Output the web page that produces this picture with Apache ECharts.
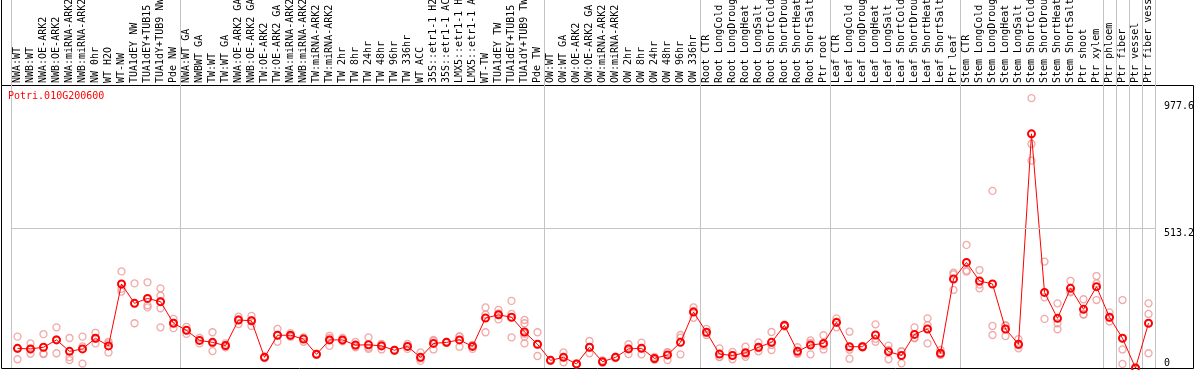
<!DOCTYPE html>
<html>
<head>
<meta charset="utf-8">
<script src="https://cdn.jsdelivr.net/npm/echarts@6/dist/echarts.min.js"></script>
<style>
html, body { margin: 0; padding: 0; background: #fff; }
#expr_chart { width: 1194px; height: 370px; }
</style>
</head>
<body>
<div id="expr_chart"></div>
<script>
var geneName = 'Potri.010G200600';

var categories = [
    'NWA:WT', 'NWB:WT', 'NWA:OE-ARK2', 'NWB:OE-ARK2', 'NWA:miRNA-ARK2', 'NWB:miRNA-ARK2',
    'NW 0hr', 'WT H2O', 'WT-NW', 'TUA1dEY NW', 'TUA1dEY+TUB15 NW', 'TUA1dY+TUB9 NW', 'Pde NW',
    'NWA:WT GA', 'NWBWT GA', 'TW:WT', 'TW:WT GA', 'NWA:OE-ARK2 GA', 'NWB:OE-ARK2 GA',
    'TW:OE-ARK2', 'TW:OE-ARK2 GA', 'NWA:miRNA-ARK2', 'NWB:miRNA-ARK2', 'TW:miRNA-ARK2', 'TW:miRNA-ARK2',
    'TW 2hr', 'TW 8hr', 'TW 24hr', 'TW 48hr', 'TW 96hr', 'TW 336hr', 'WT ACC',
    '35S::etr1-1 H2O', '35S::etr1-1 ACC', 'LMX5::etr1-1 H2O', 'LMX5::etr1-1 ACC',
    'WT-TW', 'TUA1dEY TW', 'TUA1dEY+TUB15 TW', 'TUA1dY+TUB9 TW', 'Pde TW',
    'OW:WT', 'OW:WT GA', 'OW:OE-ARK2', 'OW:OE-ARK2 GA', 'OW:miRNA-ARK2', 'OW:miRNA-ARK2',
    'OW 2hr', 'OW 8hr', 'OW 24hr', 'OW 48hr', 'OW 96hr', 'OW 336hr',
    'Root CTR', 'Root LongCold', 'Root LongDrought', 'Root LongHeat', 'Root LongSalt',
    'Root ShortCold', 'Root ShortDrought', 'Root ShortHeat', 'Root ShortSalt', 'Ptr root',
    'Leaf CTR', 'Leaf LongCold', 'Leaf LongDrought', 'Leaf LongHeat', 'Leaf LongSalt',
    'Leaf ShortCold', 'Leaf ShortDrought', 'Leaf ShortHeat', 'Leaf ShortSalt', 'Ptr leaf',
    'Stem CTR', 'Stem LongCold', 'Stem LongDrought', 'Stem LongHeat', 'Stem LongSalt',
    'Stem ShortCold', 'Stem ShortDrought', 'Stem ShortHeat', 'Stem ShortSalt', 'Ptr shoot', 'Ptr xylem',
    'Ptr phloem', 'Ptr fiber', 'Ptr vessel', 'Ptr fiber vessel'
];

// mean expression per sample
var meanValues = [
    72, 70, 76, 103, 61, 70, 109, 81, 308, 237, 255, 243, 164,
    138, 101, 94, 82, 176, 173, 39, 120, 120, 106, 50, 103, 103, 84, 85, 81, 65,
    79, 39, 90, 94, 103, 79, 183, 195, 186, 132, 87,
    28, 39, 15, 76, 23, 39, 70, 72, 35, 48, 94, 205,
    131, 51, 46, 56, 76, 94, 156, 61, 84, 90,
    167, 78, 78, 121, 60, 46, 123, 143, 54, 326,
    387, 319, 308, 143, 87, 858, 277, 182, 292, 215, 298,
    186, 109, 0, 164
];

// single replicates per sample
var replicateValues = [
    [115, 32, 70], [90, 52, 68], [124, 53, 51], [149, 54, 105], [110, 40, 29], [115, 16, 79],
    [129, 90, 108], [96, 57, 90], [354, 280, 290], [310, 164, 237], [314, 222, 230],
    [292, 265, 245, 219, 149], [180, 146, 165],
    [151, 125, 138], [110, 90, 101], [131, 62, 90], [90, 76, 80], [188, 161, 178], [191, 154, 175],
    [42, 36, 39], [143, 96, 121], [128, 114, 118], [112, 96, 108], [52, 48, 50], [118, 81, 110],
    [110, 98, 101], [96, 76, 80], [112, 70, 75], [88, 68, 86], [66, 64, 65], [88, 70, 80],
    [57, 26, 35], [103, 68, 99], [96, 92, 94], [115, 78, 116], [85, 70, 82], [222, 131, 196],
    [213, 178, 200], [246, 198, 112], [176, 164, 125, 115, 90], [131, 44, 86],
    [30, 26, 28], [57, 21, 40], [17, 13, 15], [99, 54, 75], [28, 20, 21], [42, 36, 39],
    [87, 51, 72], [93, 50, 73], [41, 30, 34], [57, 29, 58], [121, 50, 111], [222, 184, 209],
    [143, 121, 129], [72, 41, 40], [59, 32, 47], [78, 41, 49], [94, 61, 73], [132, 66, 84],
    [160, 152, 156], [76, 52, 55], [101, 50, 92], [120, 68, 82],
    [182, 149, 170], [133, 34, 67], [81, 75, 78], [160, 96, 107], [82, 32, 66], [60, 17, 62],
    [149, 109, 111], [182, 90, 157], [66, 48, 48], [349, 286, 343],
    [451, 357, 353], [359, 292, 306], [649, 154, 121], [155, 117, 157], [106, 72, 83],
    [989, 821, 760], [390, 259, 180], [237, 164, 142], [319, 280, 277], [252, 196, 197],
    [337, 310, 249], [204, 170, 184], [249, 68, 15], [0, 0, 0], [237, 198, 54]
];

// first sample index of each tissue / experiment block
var groupStarts = [0, 13, 41, 53, 63, 73, 84, 85, 86, 87];
var yTickLabels = [513.2, 977.6];
var yGridValue = 513.2;
var yMax = 1037;

var monoFont = 'DejaVu Sans Mono';

var replicatePoints = [];
replicateValues.forEach(function (reps, i) {
    reps.forEach(function (v) {
        replicatePoints.push([i, v]);
    });
});

function isGroupStart(index) {
    return groupStarts.indexOf(index) >= 0;
}

var chartDom = document.getElementById('expr_chart');
var myChart = echarts.init(chartDom, null, { renderer: 'canvas' });
var option;

option = {
    animation: false,
    backgroundColor: '#fff',
    title: {
        text: geneName,
        left: 8,
        top: 91,
        padding: 0,
        textStyle: {
            color: '#ff0000',
            fontFamily: monoFont,
            fontSize: 10,
            fontWeight: 'normal'
        }
    },
    graphic: [
        {
            type: 'line',
            shape: { x1: 1.5, y1: 0, x2: 1.5, y2: 86 },
            style: { stroke: '#000', lineWidth: 1 },
            silent: true
        }
    ],
    grid: [
        // data area
        { left: 11, right: 39, top: 85, bottom: 2, outerBoundsMode: 'none' },
        // label strip above the plot, only carries the group separators
        { left: 11, right: 39, top: 0, height: 85, outerBoundsMode: 'none' },
        // outer frame
        {
            left: 1.5, right: 0.5, top: 85.5, bottom: 1.5,
            outerBoundsMode: 'none',
            show: true, borderColor: '#000', borderWidth: 1,
            backgroundColor: 'transparent'
        }
    ],
    xAxis: [
        {
            type: 'category',
            gridIndex: 0,
            position: 'top',
            data: categories,
            axisLine: { show: false },
            axisTick: { show: false },
            axisLabel: {
                interval: 0,
                rotate: 90,
                margin: 2,
                color: '#000',
                fontFamily: monoFont,
                fontSize: 10
            },
            splitLine: {
                show: true,
                interval: isGroupStart,
                lineStyle: { color: '#c4c4c4', width: 1 }
            }
        },
        {
            type: 'category',
            gridIndex: 1,
            data: categories,
            axisLine: { show: false },
            axisTick: { show: false },
            axisLabel: { show: false },
            splitLine: {
                show: true,
                interval: isGroupStart,
                lineStyle: { color: '#c4c4c4', width: 1 }
            }
        },
        { type: 'value', gridIndex: 2, show: false, min: 0, max: 1 }
    ],
    yAxis: [
        {
            type: 'value',
            gridIndex: 0,
            position: 'right',
            min: 0,
            max: yMax,
            axisLine: { show: false },
            axisTick: { show: false },
            splitLine: { show: false },
            axisLabel: {
                customValues: yTickLabels,
                margin: 9,
                verticalAlign: 'top',
                color: '#000',
                fontFamily: monoFont,
                fontSize: 10
            }
        },
        {
            type: 'value',
            gridIndex: 0,
            position: 'right',
            min: 0,
            max: yMax,
            axisLine: { show: false },
            axisTick: { show: false },
            splitLine: { show: false },
            axisLabel: {
                customValues: [0],
                margin: 9,
                verticalAlign: 'bottom',
                color: '#000',
                fontFamily: monoFont,
                fontSize: 10
            }
        },
        { type: 'value', gridIndex: 1, show: false, min: 0, max: 1 },
        { type: 'value', gridIndex: 2, show: false, min: 0, max: 1 }
    ],
    series: [
        {
            name: 'replicates',
            type: 'scatter',
            xAxisIndex: 0,
            yAxisIndex: 0,
            data: replicatePoints,
            symbol: 'circle',
            symbolSize: 7,
            itemStyle: {
                color: 'rgba(0,0,0,0)',
                borderColor: '#ee9494',
                borderWidth: 1.3
            },
            z: 2
        },
        {
            name: 'mean',
            type: 'line',
            xAxisIndex: 0,
            yAxisIndex: 0,
            data: meanValues,
            symbol: 'circle',
            symbolSize: 7,
            showAllSymbol: true,
            clip: false,
            lineStyle: { color: '#ff0000', width: 1 },
            itemStyle: {
                color: 'rgba(0,0,0,0)',
                borderColor: '#ff0000',
                borderWidth: 2
            },
            markLine: {
                silent: true,
                symbol: 'none',
                label: { show: false },
                lineStyle: { color: '#c4c4c4', width: 1, type: 'solid' },
                data: [{ yAxis: yGridValue }]
            },
            z: 3
        }
    ]
};

option && myChart.setOption(option);

window.addEventListener('resize', myChart.resize);
</script>
</body>
</html>
